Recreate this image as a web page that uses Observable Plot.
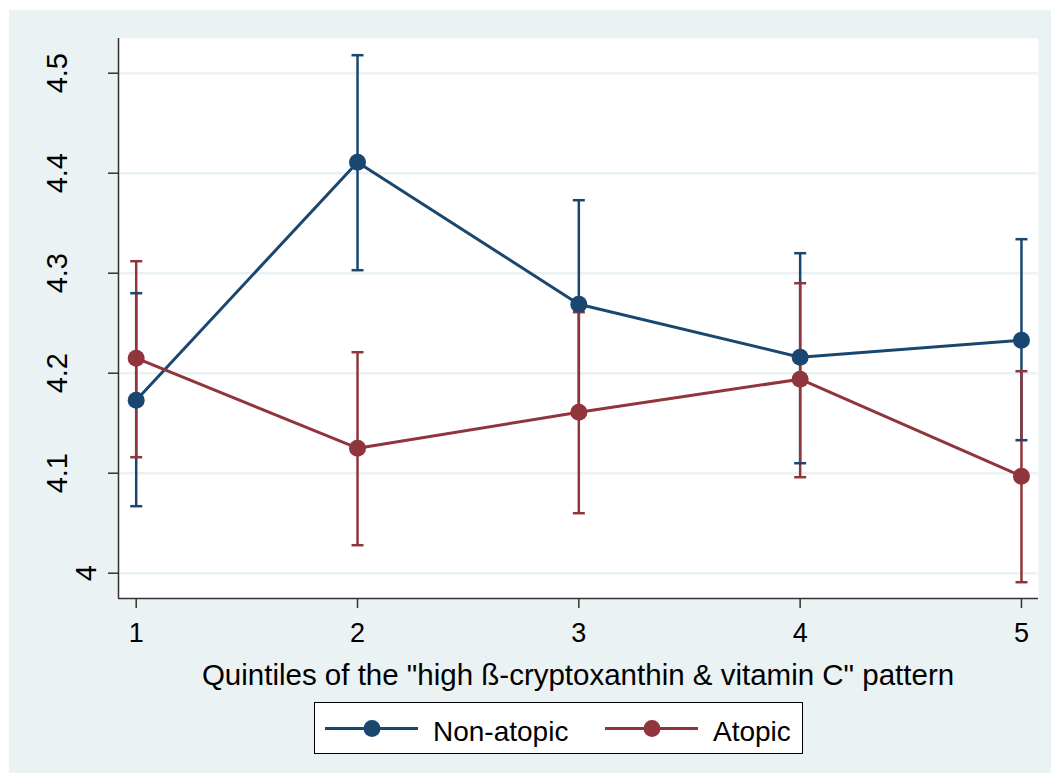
<!DOCTYPE html>
<html>
<head>
<meta charset="utf-8">
<script src="https://cdn.jsdelivr.net/npm/d3@7"></script>
<script src="https://cdn.jsdelivr.net/npm/@observablehq/plot@0.6"></script>
<style>
  html, body { margin: 0; padding: 0; background: #ffffff; }
  #chart { position: relative; width: 1051px; height: 773px; font-family: "Liberation Sans", Arial, sans-serif; overflow: hidden; }
  #bg { position: absolute; left: 9px; top: 10px; right: 0; bottom: 0; background: #EAF2F3; }
  #plot { position: absolute; left: 0; top: 0; }
  #xtitle { position: absolute; left: 118px; width: 920px; top: 660px; text-align: center; font-size: 29.5px; line-height: 29.5px; color: #000; white-space: nowrap; }
  #legend { position: absolute; left: 314px; top: 702px; width: 487px; height: 50px; border: 1px solid #000; background: #fff; }
  #legend .sw { position: absolute; top: 0; }
  #legend .lab { position: absolute; top: 15px; font-size: 28px; line-height: 28px; color: #000; white-space: nowrap; }
</style>
</head>
<body>
<div id="chart">
  <div id="bg"></div>
  <div id="plot"></div>
  <div id="xtitle"></div>
  <div id="legend"></div>
</div>
<script>
// Quintiles of the dietary pattern score
const quintiles = [1, 2, 3, 4, 5];

// Non-atopic group: mean and 95% CI
const nonAtopicMean = [4.173, 4.411, 4.269, 4.216, 4.233];
const nonAtopicLow  = [4.067, 4.303, 4.165, 4.110, 4.133];
const nonAtopicHigh = [4.280, 4.518, 4.373, 4.320, 4.334];

// Atopic group: mean and 95% CI
const atopicMean = [4.215, 4.125, 4.161, 4.194, 4.097];
const atopicLow  = [4.116, 4.028, 4.060, 4.096, 3.991];
const atopicHigh = [4.312, 4.221, 4.261, 4.290, 4.202];

const yTicks = [4, 4.1, 4.2, 4.3, 4.4, 4.5];
const seriesNames = ["Non-atopic", "Atopic"];
const xTitle = "Quintiles of the \"high ß-cryptoxanthin & vitamin C\" pattern";

const blue = "#1A476F";
const red = "#90353B";
const axisColor = "#333333";
const gridColor = "#EAF2F3";

const xDomain = [0.92, 5.077];
const yDomain = [3.9747, 4.5347];

const rows = (means, lows, highs, group) =>
  quintiles.map((q, i) => ({q, mean: means[i], lo: lows[i], hi: highs[i], group}));
const nonAtopic = rows(nonAtopicMean, nonAtopicLow, nonAtopicHigh, seriesNames[0]);
const atopic = rows(atopicMean, atopicLow, atopicHigh, seriesNames[1]);

// horizontal cap for the confidence-interval whiskers
const capSymbol = {
  draw(context, size) {
    const w = Math.sqrt(size / Math.PI);
    context.moveTo(-w, 0);
    context.lineTo(w, 0);
  }
};

const bars = (data, color) => Plot.ruleX(data, {x: "q", y1: "lo", y2: "hi", stroke: color, strokeWidth: 2.5});
const caps = (data, color) => [
  Plot.dot(data, {x: "q", y: "lo", symbol: capSymbol, r: 6, stroke: color, strokeWidth: 2.5, fill: "none"}),
  Plot.dot(data, {x: "q", y: "hi", symbol: capSymbol, r: 6, stroke: color, strokeWidth: 2.5, fill: "none"})
];

const chart = Plot.plot({
  width: 1051,
  height: 650,
  marginLeft: 118,
  marginRight: 13,
  marginTop: 38,
  marginBottom: 52,
  style: {background: "transparent", fontFamily: "Liberation Sans, Arial, sans-serif", color: "#000"},
  x: {domain: xDomain},
  y: {domain: yDomain},
  marks: [
    Plot.frame({fill: "white", stroke: null}),
    Plot.gridY(yTicks, {stroke: gridColor, strokeOpacity: 1, strokeWidth: 2.5}),
    // axis lines on the left and bottom of the plot region
    Plot.ruleX([xDomain[0]], {stroke: axisColor, strokeWidth: 1.5}),
    Plot.ruleY([yDomain[0]], {stroke: axisColor, strokeWidth: 1.5}),
    Plot.axisY(yTicks, {tickSize: 10, stroke: axisColor, strokeWidth: 1.5, tickFormat: () => "", label: null}),
    Plot.text(yTicks.filter(d => d !== 4), {y: d => d, text: d => String(d), frameAnchor: "left", dx: -61,
      rotate: -90, fontSize: 29, textAnchor: "middle", lineAnchor: "middle", fill: "#000"}),
    Plot.text(yTicks.filter(d => d === 4), {y: d => d, text: d => String(d), frameAnchor: "left", dx: -32,
      rotate: -90, fontSize: 29, textAnchor: "middle", lineAnchor: "middle", fill: "#000"}),
    Plot.axisX(quintiles, {tickSize: 10, tickPadding: 14, stroke: axisColor, strokeWidth: 1.5, fontSize: 27,
      fill: "#000", label: null, tickFormat: d => String(d)}),
    // confidence intervals
    bars(nonAtopic, blue),
    bars(atopic, red),
    ...caps(nonAtopic, blue),
    ...caps(atopic, red),
    // group means
    Plot.line(nonAtopic, {x: "q", y: "mean", stroke: blue, strokeWidth: 3}),
    Plot.line(atopic, {x: "q", y: "mean", stroke: red, strokeWidth: 3}),
    Plot.dot(nonAtopic, {x: "q", y: "mean", r: 8.5, fill: blue, stroke: null}),
    Plot.dot(atopic, {x: "q", y: "mean", r: 8.5, fill: red, stroke: null})
  ]
});
document.getElementById("plot").appendChild(chart);
document.getElementById("xtitle").textContent = xTitle;

// legend: line-with-marker swatches and series names
const legend = document.getElementById("legend");
const items = [
  {name: seriesNames[0], color: blue, sw: 10, lab: 118},
  {name: seriesNames[1], color: red, sw: 290, lab: 398}
];
for (const it of items) {
  const svg = d3.create("svg").attr("class", "sw").attr("width", 94).attr("height", 50)
    .style("left", it.sw + "px");
  svg.append("line").attr("x1", 0).attr("x2", 93).attr("y1", 25.5).attr("y2", 25.5)
    .attr("stroke", it.color).attr("stroke-width", 3);
  svg.append("circle").attr("cx", 47).attr("cy", 25.5).attr("r", 8.5).attr("fill", it.color);
  legend.appendChild(svg.node());
  const lab = document.createElement("div");
  lab.className = "lab";
  lab.style.left = it.lab + "px";
  lab.textContent = it.name;
  legend.appendChild(lab);
}
</script>
</body>
</html>
